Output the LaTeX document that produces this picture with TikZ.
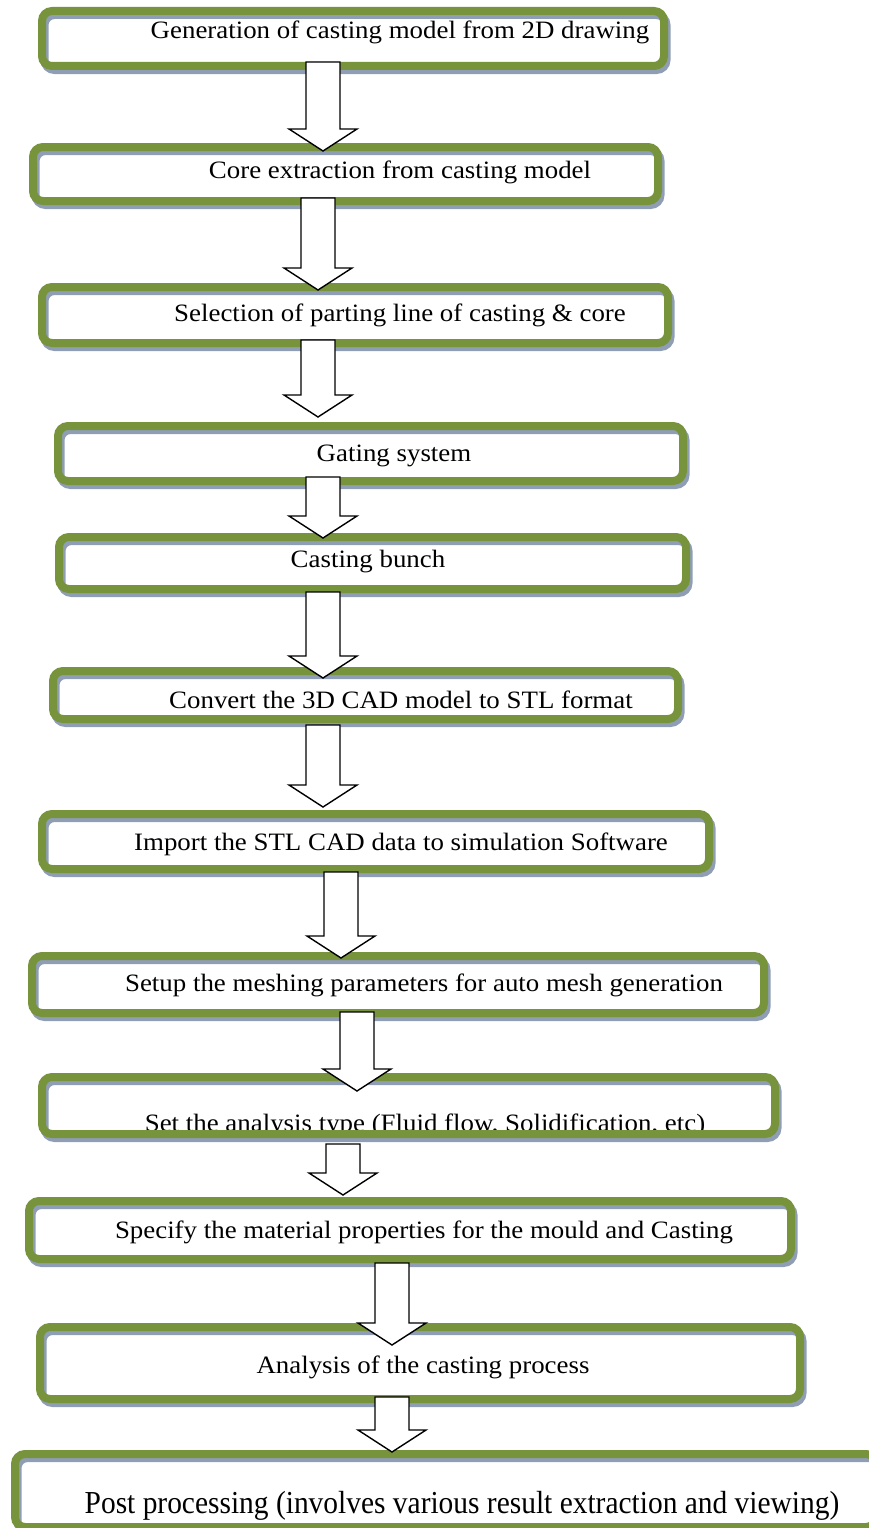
\documentclass[tikz,border=0pt]{standalone}
\usepackage{fontspec}
\newfontfamily\boxfont{Liberation Serif}[FakeStretch=1.075]
\newfontfamily\postfont{Liberation Serif}[FakeStretch=0.92]
\usepackage{tikz}
\usetikzlibrary{calc}

\definecolor{boxgreen}{RGB}{119,147,60}
\definecolor{boxshadow}{RGB}{143,158,180}

\tikzset{
    stepbox/.style={draw=boxgreen, line width=8pt, rounded corners=10pt, inner sep=0pt,
        preaction={draw=boxshadow, transform canvas={shift={(2.5pt,-4pt)}}}},
    steptext/.style={font=\boxfont\fontsize{25}{29}\selectfont, inner sep=0pt, anchor=base},
    blockarr/.style={draw=black, fill=white, line width=1.4pt, line join=miter},
}

\begin{document}
\begin{tikzpicture}[x=1pt, y=-1pt]
        \useasboundingbox (0,0) rectangle (869,1528);

        %文字
        \node[steptext] (t1) at (400,38) {Generation of casting model from 2D drawing};
        \node[steptext] (t2) at (400,178) {Core extraction from casting model};
        \node[steptext] (t3) at (400,321) {Selection of parting line of casting \& core};
        \node[steptext] (t4) at (394,461) {Gating system};
        \node[steptext] (t5) at (368,567) {Casting bunch};
        \node[steptext] (t6) at (401,708) {Convert the 3D CAD model to STL format};
        \node[steptext] (t7) at (401,850) {Import the STL CAD data to simulation Software};
        \node[steptext] (t8) at (424,991) {Setup the meshing parameters for auto mesh generation};
        \node[steptext] (t9) at (425,1131) {Set the analysis type (Fluid flow, Solidification, etc)};
        \node[steptext] (t10) at (424,1238) {Specify the material properties for the mould and Casting};
        \node[steptext] (t11) at (423,1373) {Analysis of the casting process};
        \node[steptext, font=\postfont\fontsize{32}{36}\selectfont] (t12) at (462,1513)
            {Post processing (involves various result extraction and viewing)};

        %枠
        \node[stepbox, minimum width=622pt, minimum height=55pt] (s1) at (353,38.5) {};
        \node[stepbox, minimum width=625pt, minimum height=54pt] (s2) at (345.5,174) {};
        \node[stepbox, minimum width=626pt, minimum height=56pt] (s3) at (355,315) {};
        \node[stepbox, minimum width=625pt, minimum height=55pt] (s4) at (370.5,453.5) {};
        \node[stepbox, minimum width=627pt, minimum height=52pt] (s5) at (372.5,563) {};
        \node[stepbox, minimum width=625pt, minimum height=48pt] (s6) at (365.5,695) {};
        \node[stepbox, minimum width=667pt, minimum height=55pt] (s7) at (375.5,841.5) {};
        \node[stepbox, minimum width=732pt, minimum height=57pt] (s8) at (398,984.5) {};
        \node[stepbox, minimum width=733pt, minimum height=57pt] (s9) at (408.5,1105.5) {};
        \node[stepbox, minimum width=762pt, minimum height=58pt] (s10) at (410,1230) {};
        \node[stepbox, minimum width=760pt, minimum height=72pt] (s11) at (420,1363) {};
        \node[stepbox, minimum width=861pt, minimum height=73pt] (s12) at (445.5,1490.5) {};

        %矢印
        \foreach \xa/\from/\to/\din/\dout in {323/s1/s2/8/8, 318/s2/s3/7/7, 318/s3/s4/7/-5,
            323/s4/s5/8/5, 323/s5/s6/1/11, 323/s6/s7/-2/-3, 341/s7/s8/1/6, 357/s8/s9/5/18,
            343/s9/s10/-6/-2, 392/s10/s11/0/22, 392/s11/s12/6/2}
            \draw[blockarr] let \p1=(\from.south), \p2=(\to.north) in
                ({\xa pt-17pt},{\y1+\din pt}) -- ({\xa pt+17pt},{\y1+\din pt})
                -- ({\xa pt+17pt},{\y2-\dout pt+22pt}) -- ({\xa pt+34pt},{\y2-\dout pt+22pt})
                -- ({\xa pt},{\y2-\dout pt}) -- ({\xa pt-34pt},{\y2-\dout pt+22pt})
                -- ({\xa pt-17pt},{\y2-\dout pt+22pt}) -- cycle;
    \end{tikzpicture}
\end{document}
